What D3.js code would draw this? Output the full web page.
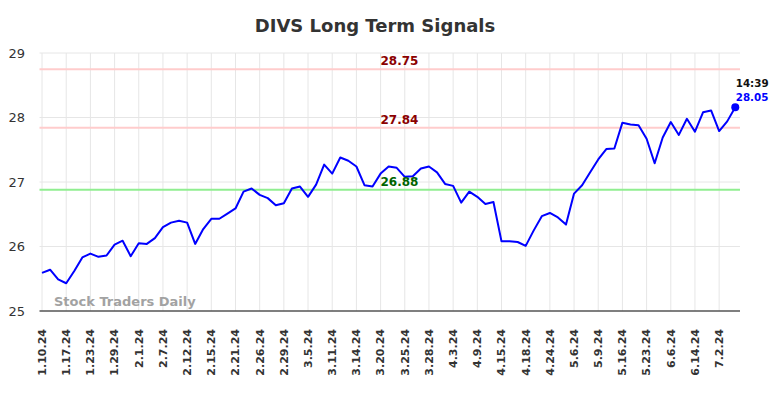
<!DOCTYPE html>
<html>
<head>
<meta charset="utf-8">
<script src="https://cdn.jsdelivr.net/npm/d3@7/dist/d3.min.js"></script>
<style>
  html, body { margin: 0; padding: 0; background: #fff; }
  svg { display: block; font-family: "DejaVu Sans", sans-serif; }
</style>
</head>
<body>
<svg id="chart" width="784" height="398"></svg>
<script>
const title = "DIVS Long Term Signals";
const tickLabels = ["1.10.24","1.17.24","1.23.24","1.29.24","2.1.24","2.7.24","2.12.24","2.15.24","2.21.24","2.26.24","2.29.24","3.5.24","3.11.24","3.14.24","3.20.24","3.25.24","3.28.24","4.3.24","4.9.24","4.15.24","4.18.24","4.24.24","5.6.24","5.9.24","5.16.24","5.23.24","6.6.24","6.14.24","7.2.24"];
const prices = [25.59,25.64,25.49,25.43,25.62,25.83,25.89,25.84,25.86,26.03,
  26.09,25.85,26.05,26.04,26.13,26.30,26.37,26.40,26.37,26.04,
  26.27,26.43,26.43,26.51,26.59,26.85,26.90,26.80,26.75,26.64,
  26.67,26.90,26.93,26.77,26.96,27.27,27.13,27.38,27.33,27.24,
  26.95,26.93,27.13,27.24,27.22,27.08,27.09,27.21,27.24,27.15,
  26.97,26.94,26.68,26.85,26.77,26.66,26.69,26.08,26.08,26.07,
  26.01,26.25,26.47,26.52,26.45,26.34,26.82,26.95,27.15,27.35,
  27.51,27.52,27.92,27.89,27.88,27.67,27.29,27.69,27.93,27.73,
  27.98,27.78,28.08,28.11,27.79,27.94,28.16];
const yTicks = [25, 26, 27, 28, 29];
const resistanceLevels = [28.75, 27.84];
const supportLevels = [26.88];
const lastTime = "14:39";
const lastPriceLabel = "28.05";
const watermark = "Stock Traders Daily";
const tickEvery = 3;

(function () {
const svg = d3.select("#chart");
const pLeft = 39.5, pRight = 740, pTop = 53, pBottom = 311;

const idx = d3.range(prices.length);
const x = d3.scalePoint().domain(idx).range([38, 739.3]).padding(0.5);
const y = d3.scaleLinear().domain([25, 29]).range([pBottom, pTop]);

const tickIdx = tickLabels.map((d, i) => i * tickEvery);

// grid
const grid = svg.append("g");
grid.selectAll(".hg").data(yTicks.filter(d => d !== 25)).join("line")
  .attr("x1", pLeft).attr("x2", pRight)
  .attr("y1", d => y(d)).attr("y2", d => y(d))
  .attr("stroke", "#e6e6e6").attr("stroke-width", 1);
grid.selectAll(".vg").data(tickIdx).join("line")
  .attr("x1", d => x(d)).attr("x2", d => x(d))
  .attr("y1", pTop).attr("y2", pBottom)
  .attr("stroke", "#e6e6e6").attr("stroke-width", 1);

// y axis labels
svg.append("g").selectAll("text").data(yTicks).join("text")
  .attr("x", 25).attr("y", d => y(d)).attr("dy", "0.35em")
  .attr("text-anchor", "end").attr("font-size", 13).attr("fill", "#333")
  .text(d => d);

// x axis line
svg.append("line").attr("x1", pLeft).attr("x2", pRight)
  .attr("y1", pBottom).attr("y2", pBottom)
  .attr("stroke", "#555").attr("stroke-width", 1.5);

// x labels
svg.append("g").selectAll("text").data(tickIdx).join("text")
  .attr("transform", d => `translate(${x(d)},329) rotate(-90)`)
  .attr("dy", "0.35em").attr("text-anchor", "end")
  .attr("font-size", 11).attr("font-weight", "bold").attr("fill", "#333")
  .text((d, i) => tickLabels[i]);

// threshold lines
const levels = resistanceLevels.map(v => ({v, line: "#ffcccc", text: "#8b0000"}))
  .concat(supportLevels.map(v => ({v, line: "#90ee90", text: "#006400"})));
svg.append("g").selectAll("line").data(levels).join("line")
  .attr("x1", pLeft).attr("x2", pRight)
  .attr("y1", d => y(d.v)).attr("y2", d => y(d.v))
  .attr("stroke", d => d.line).attr("stroke-width", 2);

// watermark
svg.append("text").attr("x", 54).attr("y", 306)
  .attr("font-size", 13).attr("font-weight", "bold").attr("fill", "#999").attr("opacity", 0.9)
  .text(watermark);

// price line
svg.append("path").datum(prices)
  .attr("fill", "none").attr("stroke", "#0000ff").attr("stroke-width", 2)
  .attr("stroke-linejoin", "round")
  .attr("d", d3.line().x((d, i) => x(i)).y(d => y(d)));

// level labels
svg.append("g").selectAll("text").data(levels).join("text")
  .attr("x", 399.5).attr("y", d => y(d.v) - 4)
  .attr("text-anchor", "middle").attr("font-size", 12).attr("font-weight", "bold")
  .attr("fill", d => d.text)
  .text(d => d.v.toFixed(2));

// last point
const li = prices.length - 1;
svg.append("circle").attr("cx", x(li)).attr("cy", y(prices[li])).attr("r", 4).attr("fill", "#0000ff");
svg.append("text").attr("x", x(li) + 0.5).attr("y", 87)
  .attr("font-size", 10.3).attr("font-weight", "bold").attr("fill", "#111").text(lastTime);
svg.append("text").attr("x", x(li) + 0.5).attr("y", 101)
  .attr("font-size", 10.3).attr("font-weight", "bold").attr("fill", "#0000ff").text(lastPriceLabel);

// title
svg.append("text").attr("x", 375).attr("y", 32).attr("text-anchor", "middle")
  .attr("font-size", 18).attr("font-weight", "bold").attr("fill", "#333").text(title);
})();
</script>
</body>
</html>
